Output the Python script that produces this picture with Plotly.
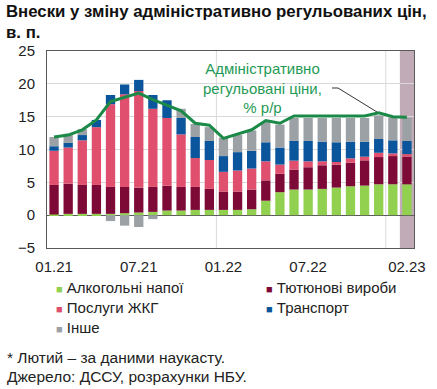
import plotly.graph_objects as go

months = ["01.21","02.21","03.21","04.21","05.21","06.21","07.21","08.21","09.21","10.21","11.21","12.21",
          "01.22","02.22","03.22","04.22","05.22","06.22","07.22","08.22","09.22","10.22","11.22","12.22",
          "01.23","02.23"]
alcohol = [0.1,0.2,0.2,0.2,0.2,0.3,0.4,0.5,0.7,0.7,0.8,0.8,0.8,0.8,0.9,2.2,3.5,3.9,3.9,4.0,4.2,4.4,4.5,4.7,4.7,4.7]
tobacco = [4.5,4.6,4.4,4.4,4.1,4.0,3.8,3.8,3.8,3.6,3.5,3.2,2.8,2.8,3.0,3.1,2.8,3.05,3.4,3.6,3.5,3.6,3.85,4.15,4.3,4.2]
utilities = [5.2,5.5,6.8,8.8,12.6,14.1,14.7,11.9,10.3,8.0,4.4,4.4,3.0,3.2,3.2,2.9,1.4,1.35,0.9,0.6,0.4,0.65,0.55,0.65,0.4,0.4]
transport = [0.7,0.7,0.8,1.1,1.4,1.5,1.7,2.1,2.7,2.5,3.2,2.9,2.4,2.8,2.7,2.9,2.6,3.0,3.1,3.0,3.0,2.55,2.3,2.1,2.0,2.0]
other = [1.4,1.4,0.9,0.0,-0.9,-1.6,-1.8,-0.6,0.0,1.4,2.0,2.1,2.8,2.6,3.1,3.1,3.5,3.5,3.5,3.6,3.7,3.6,3.6,3.6,3.5,3.5]
admin_yoy = [11.9,12.2,13.0,14.5,17.3,18.0,18.6,17.6,16.8,15.9,14.0,13.7,11.7,12.4,13.0,14.4,14.0,15.1,15.1,15.0,15.0,15.0,15.1,15.6,15.0,14.9]

tick_labels = ["01.21","07.21","01.22","07.22","02.23"]

series = [
    ("Алкогольні напої", alcohol, "#92d050"),
    ("Тютюнові вироби", tobacco, "#7d0a36"),
    ("Послуги ЖКГ", utilities, "#e0506e"),
    ("Транспорт", transport, "#0b559c"),
    ("Інше", other, "#9ca1a6"),
]

FONT = "Liberation Sans, Arial, sans-serif"
W, H = 437, 389
L, R, T, B = 47, 23, 51, 141
PW, PH = W - L - R, H - T - B

def px(xp):
    return (xp - L) / PW

def py(yp):
    return (H - B - yp) / PH

fig = go.Figure()
for name, vals, col in series:
    fig.add_trace(go.Bar(x=months, y=vals, name=name, marker=dict(color=col, line=dict(width=0)),
                         showlegend=False))
fig.add_trace(go.Scatter(x=months, y=admin_yoy, mode="lines", name="Адміністративно регульовані ціни, % р/р",
                         line=dict(color="#1b8a48", width=3), showlegend=False))

# shaded nowcast month
fig.add_shape(type="rect", xref="x", yref="paper", x0=len(months) - 1.5, x1=len(months) - 0.5, y0=0, y1=1,
              fillcolor="#c0abb6", line=dict(width=0), layer="below")
# year gridlines
for xv in [11.5, 23.5]:
    fig.add_shape(type="line", xref="x", yref="paper", x0=xv, x1=xv, y0=0, y1=1,
                  line=dict(color="#d9d9d9", width=1), layer="below")

fig.update_layout(
    width=W, height=H,
    margin=dict(l=L, r=R, t=T, b=B),
    barmode="relative", bargap=0.34,
    paper_bgcolor="white", plot_bgcolor="white",
    font=dict(family=FONT, size=15, color="#222222"),
    showlegend=False,
)
fig.update_xaxes(type="category", tickmode="array", tickvals=tick_labels, ticktext=tick_labels,
                 showgrid=False, showline=True, mirror=True, linecolor="#595959", linewidth=1,
                 ticks="", ticklabelstandoff=5, tickfont=dict(size=15))
fig.update_yaxes(range=[-5, 25], dtick=5, showgrid=True, gridcolor="#d9d9d9", gridwidth=1,
                 zeroline=True, zerolinecolor="#595959", zerolinewidth=1.2,
                 showline=True, mirror=True, linecolor="#595959", linewidth=1,
                 ticks="", ticklabelstandoff=8, tickfont=dict(size=15))

# title as two text lines
fig.add_annotation(x=px(4), y=py(12), xref="paper", yref="paper", xanchor="left", yanchor="middle",
                   text="<b>Внески у зміну адміністративно регульованих цін,</b>", showarrow=False,
                   font=dict(family=FONT, size=16.8, color="#111111"))
fig.add_annotation(x=px(4), y=py(32), xref="paper", yref="paper", xanchor="left", yanchor="middle",
                   text="<b>в. п.</b>", showarrow=False,
                   font=dict(family=FONT, size=16.8, color="#111111"))

# line annotation
fig.add_annotation(x=px(262), y=py(58), xref="paper", yref="paper", yanchor="top",
                   text="Адміністративно<br>регульовані ціни,<br>% р/р", showarrow=False,
                   font=dict(family=FONT, size=15, color="#1f9a55"), align="center")
fig.add_shape(type="path", xref="paper", yref="paper",
              path=f"M{px(332)},{py(88)} L{px(338)},{py(88)} L{px(377)},{py(112)}",
              line=dict(color="#333333", width=1))

# legend as annotations
legend_pos = [(54, 287), (264, 287), (54, 307), (264, 307), (54, 327)]
for (name, vals, col), (lx, ly) in zip(series, legend_pos):
    fig.add_annotation(x=px(lx), y=py(ly), xref="paper", yref="paper", xanchor="left", yanchor="middle",
                       text=f"<span style='color:{col};font-size:11px'>■</span> {name}", showarrow=False,
                       font=dict(family=FONT, size=15, color="#222222"))

fig.add_annotation(x=px(5), y=py(357), xref="paper", yref="paper", xanchor="left", yanchor="middle",
                   text="* Лютий – за даними наукасту.", showarrow=False,
                   font=dict(family=FONT, size=15.5, color="#222222"))
fig.add_annotation(x=px(5), y=py(377), xref="paper", yref="paper", xanchor="left", yanchor="middle",
                   text="Джерело: ДССУ, розрахунки НБУ.", showarrow=False,
                   font=dict(family=FONT, size=15.5, color="#222222"))

fig.write_html("out.html", config={"displayModeBar": False},
               post_script="document.body.style.margin='0';document.body.style.overflow='hidden';")
